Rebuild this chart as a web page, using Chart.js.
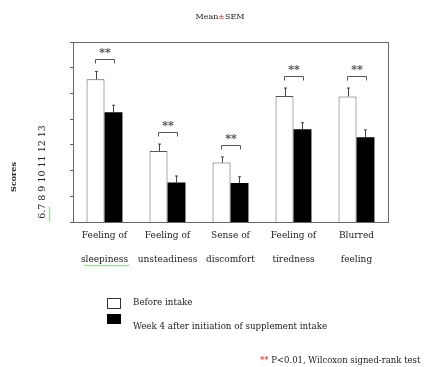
<!DOCTYPE html>
<html><head><meta charset="utf-8">
<script src="https://cdn.jsdelivr.net/npm/chart.js@4/dist/chart.umd.min.js"></script>
<style>html,body{margin:0;padding:0;background:#fff;}canvas{display:block;}</style>
</head><body>
<canvas id="c" width="424" height="367"></canvas>
<script>
const categories = [["Feeling of","sleepiness"],["Feeling of","unsteadiness"],["Sense of","discomfort"],["Feeling of","tiredness"],["Blurred","feeling"]];
const beforeIntake = [11.55, 8.76, 8.31, 10.90, 10.88];
const beforeSem = [0.30, 0.27, 0.22, 0.31, 0.33];
const week4 = [10.27, 7.54, 7.52, 9.61, 9.30];
const week4Sem = [0.27, 0.25, 0.24, 0.25, 0.28];
const bracketLevel = [12.34, 9.51, 9.0, 11.68, 11.68];
const yTickText = "6.7 8 9 10 11 12 13";
const seriesNames = ["Before intake", "Week 4 after initiation of supplement intake"];

const SERIF = "'DejaVu Serif', serif";
const TXT = "#222";

function squiggle(ctx, x0, y0, len, vertical) {
  ctx.save(); ctx.strokeStyle = '#5cc05c'; ctx.lineWidth = 0.8; ctx.beginPath();
  for (let t = 0; t <= len; t += 1.5) {
    const off = (Math.round(t / 1.5) % 2) ? 1 : -0;
    if (vertical) { t === 0 ? ctx.moveTo(x0 + off, y0 + t) : ctx.lineTo(x0 + off, y0 + t); }
    else { t === 0 ? ctx.moveTo(x0 + t, y0 + off) : ctx.lineTo(x0 + t, y0 + off); }
  }
  ctx.stroke(); ctx.restore();
}

const extras = {
  id: 'extras',
  afterDatasetsDraw(chart) {
    const ctx = chart.ctx, a = chart.chartArea, y = chart.scales.y;
    ctx.save();
    // frame
    ctx.strokeStyle = '#666'; ctx.lineWidth = 1;
    ctx.strokeRect(Math.round(a.left)+0.5, Math.round(a.top)+0.5, Math.round(a.right-a.left), Math.round(a.bottom-a.top));
    // error bars
    const sems = [beforeSem, week4Sem];
    [0,1].forEach(di => {
      const meta = chart.getDatasetMeta(di);
      meta.data.forEach((bar, i) => {
        const v = chart.data.datasets[di].data[i];
        const yt = y.getPixelForValue(v + sems[di][i]);
        const x = Math.round(bar.x) + 0.5;
        ctx.strokeStyle = '#444'; ctx.lineWidth = 1;
        ctx.beginPath(); ctx.moveTo(x, bar.y); ctx.lineTo(x, yt);
        ctx.moveTo(x-1.5, yt); ctx.lineTo(x+1.5, yt); ctx.stroke();
      });
    });
    // brackets
    const m0 = chart.getDatasetMeta(0), m1 = chart.getDatasetMeta(1);
    bracketLevel.forEach((lv, i) => {
      const x0 = Math.round(m0.data[i].x)-0.5, x1 = Math.round(m1.data[i].x)+1.5;
      const yb = Math.round(y.getPixelForValue(lv))+0.5;
      ctx.strokeStyle = '#555'; ctx.lineWidth = 1;
      ctx.beginPath(); ctx.moveTo(x0, yb+4); ctx.lineTo(x0, yb); ctx.lineTo(x1, yb); ctx.lineTo(x1, yb+4); ctx.stroke();
      ctx.fillStyle = '#444'; ctx.font = "bold 11px " + SERIF;
      ctx.textAlign = 'center'; ctx.textBaseline = 'middle';
      ctx.fillText('**', (x0+x1)/2, yb - 6);
    });
    // title
    ctx.font = "8px " + SERIF; ctx.textBaseline = 'middle'; ctx.textAlign = 'left';
    const parts = [["Mean", TXT], ["±", "#e02020"], ["SEM", TXT]];
    let tw = parts.reduce((s,p)=>s+ctx.measureText(p[0]).width, 0);
    let tx = 220 - tw/2;
    parts.forEach(p => { ctx.fillStyle = p[1]; ctx.fillText(p[0], tx, 17); tx += ctx.measureText(p[0]).width; });
    // rotated y texts
    ctx.save(); ctx.translate(14, 177); ctx.rotate(-Math.PI/2);
    ctx.font = "bold 8px " + SERIF; ctx.fillStyle = TXT; ctx.textAlign = 'center'; ctx.textBaseline = 'middle';
    ctx.fillText("Scores", 0, 0); ctx.restore();
    ctx.save(); ctx.translate(43, 172); ctx.rotate(-Math.PI/2);
    ctx.font = "9.5px " + SERIF; ctx.fillStyle = TXT; ctx.textAlign = 'center'; ctx.textBaseline = 'middle';
    ctx.fillText(yTickText, 0, 0); ctx.restore();
    squiggle(ctx, 49, 207, 15, true);
    squiggle(ctx, 84, 265, 46, false);
    // legend
    ctx.lineWidth = 1; ctx.strokeStyle = '#333'; ctx.fillStyle = '#fff';
    ctx.fillRect(107, 298, 13, 10); ctx.strokeRect(107.5, 298.5, 13, 10);
    ctx.fillStyle = '#000'; ctx.fillRect(107, 314, 14, 10);
    ctx.font = "8.7px " + SERIF; ctx.fillStyle = TXT; ctx.textAlign = 'left'; ctx.textBaseline = 'middle';
    ctx.fillText(seriesNames[0], 133, 303);
    ctx.fillText(seriesNames[1], 133, 327);
    // footnote
    ctx.font = "8.5px " + SERIF; ctx.textAlign = 'left';
    ctx.fillStyle = '#e02020'; ctx.fillText("**", 260, 361);
    const sw = ctx.measureText("** ").width;
    ctx.fillStyle = TXT; ctx.fillText("P<0.01, Wilcoxon signed-rank test", 260 + sw, 361);
    ctx.restore();
  }
};

new Chart(document.getElementById('c'), {
  type: 'bar',
  data: {
    labels: categories,
    datasets: [
      { label: seriesNames[0], data: beforeIntake, backgroundColor: '#fff', borderColor: '#555', borderWidth: 1, borderSkipped: 'bottom' },
      { label: seriesNames[1], data: week4, backgroundColor: '#000', borderColor: '#000', borderWidth: 0 }
    ]
  },
  options: {
    responsive: false, animation: false, devicePixelRatio: 1,
    layout: { padding: { top: 42, right: 36, left: 0, bottom: 0 } },
    datasets: { bar: { categoryPercentage: 0.57, barPercentage: 1.0 } },
    plugins: { legend: { display: false }, title: { display: false }, tooltip: { enabled: false } },
    scales: {
      x: {
        grid: { display: false }, border: { display: false },
        ticks: { color: TXT, font: { family: SERIF, size: 9, lineHeight: 2.65 }, padding: -6, maxRotation: 0, autoSkip: false },
        afterFit(s) { s.height = 145; }
      },
      y: {
        min: 6, max: 13,
        grid: { drawOnChartArea: false, drawTicks: true, tickLength: 3, color: '#666' },
        border: { display: false },
        ticks: { display: false, stepSize: 1 },
        afterFit(s) { s.width = 73; }
      }
    }
  },
  plugins: [extras]
});
</script>
</body></html>
